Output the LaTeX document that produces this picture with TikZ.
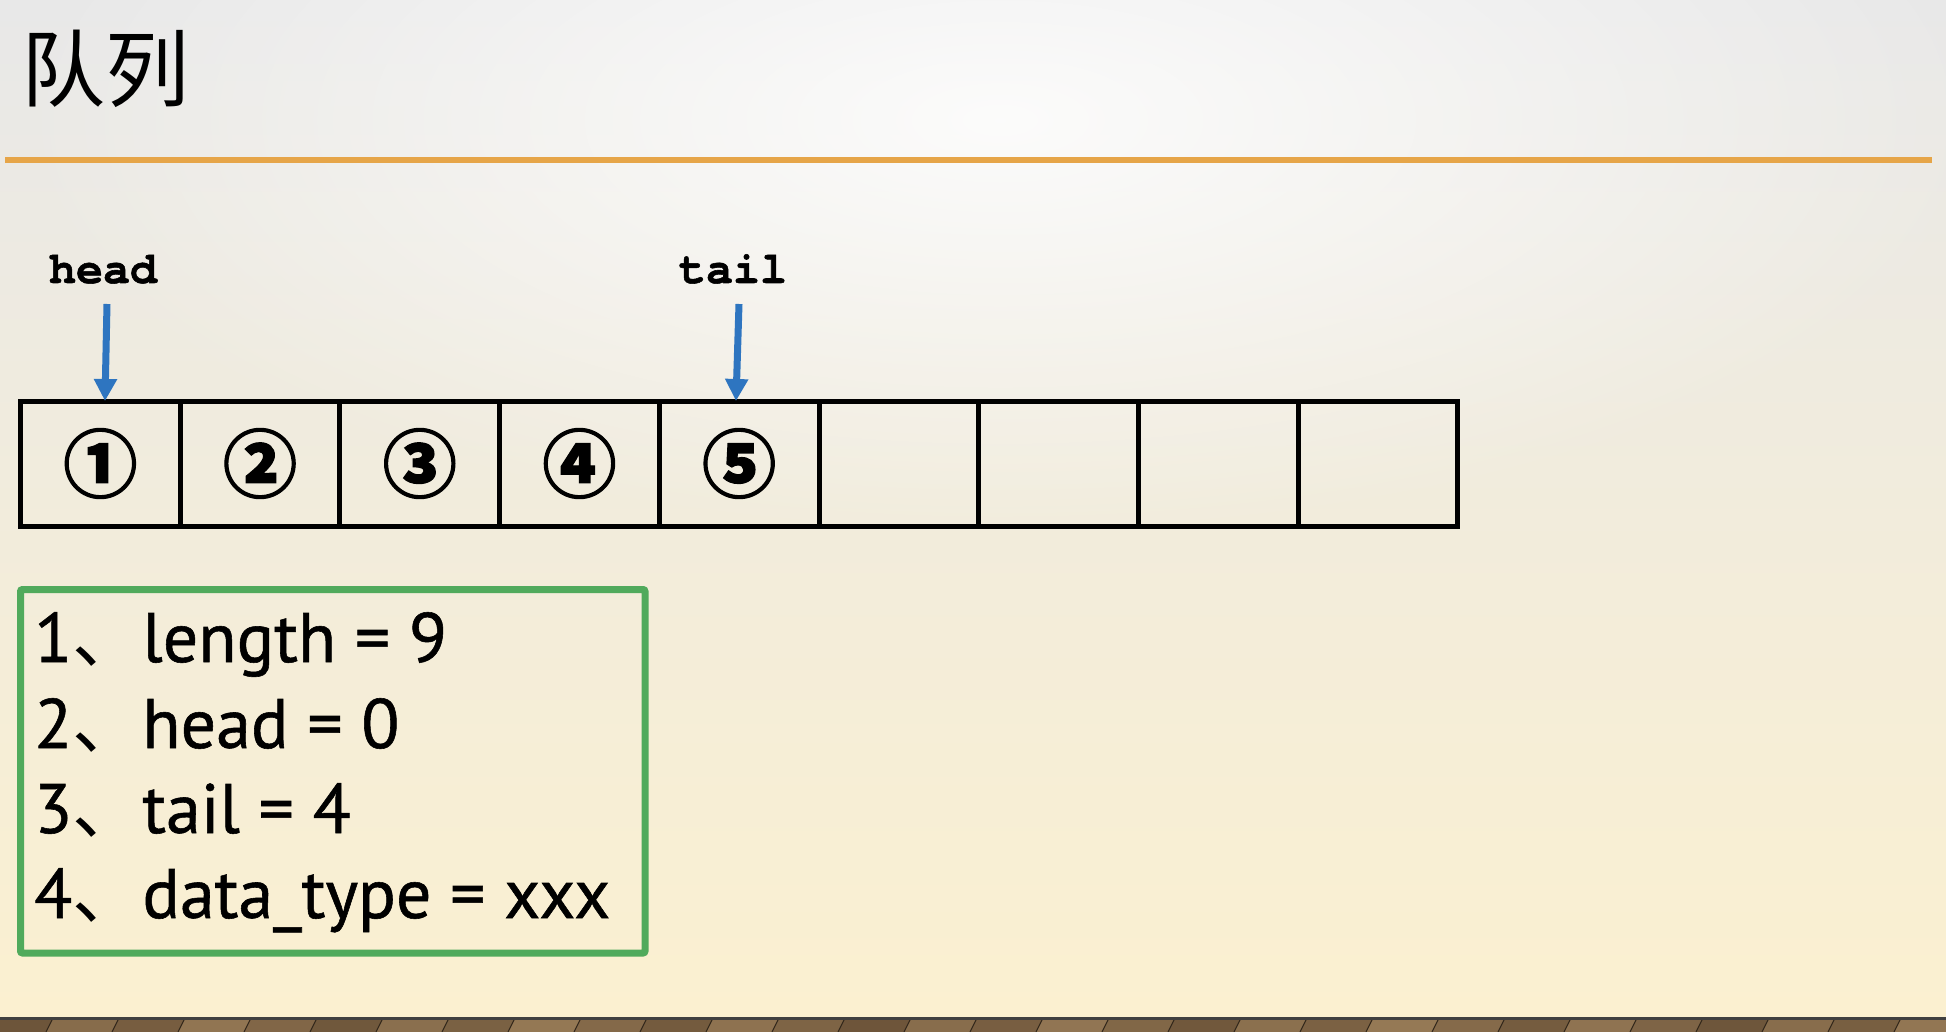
\documentclass[tikz,border=0pt]{standalone}
\usepackage{fontspec}
\setmainfont{PT Sans}[UprightFeatures={FakeBold=0.8}]
\newfontfamily\courb{texgyrecursor-bold.otf}[FakeBold=1.2]
\newfontfamily\cjk{Noto Sans CJK SC}
\newfontfamily\circfont{Noto Sans CJK SC}[BoldFeatures={FakeBold=1.6}]
\usetikzlibrary{arrows.meta,fadings}
\definecolor{bgtop}{RGB}{232,232,232}
\definecolor{bgmid}{RGB}{247,244,234}
\definecolor{bgbot}{RGB}{251,240,208}
\definecolor{rule}{RGB}{230,165,72}
\definecolor{arrowblue}{RGB}{46,117,192}
\definecolor{boxgreen}{RGB}{80,170,92}
\definecolor{wooddark}{RGB}{95,72,48}
\definecolor{woodlight}{RGB}{165,135,96}
\tikzfading[name=glow, inner color=transparent!0, outer color=transparent!100]
\tikzset{
  cell/.style={draw=black, line width=5pt, minimum width=159.7pt, minimum height=125pt, inner sep=0pt, anchor=west},
  circnum/.style={font=\circfont\bfseries\fontsize{74}{74}\selectfont, inner sep=0pt},
  ptr/.style={font=\courb\fontsize{45}{45}\selectfont, inner sep=0pt, anchor=base},
  ptrarrow/.style={draw=arrowblue, line width=7pt, -{Triangle[width=22pt,length=22pt]}},
  listline/.style={font=\fontsize{70}{70}\selectfont, inner sep=0pt, anchor=base west},
}
\begin{document}
\begin{tikzpicture}[x=1pt,y=-1pt]
\useasboundingbox (0,0) rectangle (1946,1032);
% background
\shade[top color=bgtop, middle color=bgmid, bottom color=bgbot] (0,0) rectangle (1946,1018);
\begin{scope}
\clip (0,0) rectangle (1946,1018);
\fill[white, opacity=0.85, path fading=glow] (1000,120) ellipse [x radius=1000pt, y radius=420pt];
\end{scope}
% wood floor
\foreach \i in {0,...,31} {
  \pgfmathsetmacro{\xa}{\i*66-20}
  \pgfmathtruncatemacro{\m}{mod(\i*37,60)+20}
  \fill[woodlight!\m!wooddark] (\xa+7,1018) -- (\xa+73,1018) -- (\xa+66,1032) -- (\xa,1032) -- cycle;
  \draw[black!50!wooddark, line width=1pt] (\xa+7,1018) -- (\xa,1032);
}
\draw[black!75, line width=2.5pt] (0,1018.5) -- (1946,1018.5);
% title
\node[font=\cjk\fontsize{84}{90}\selectfont, inner sep=0pt, anchor=west] (title) at (21,69) {队列};
\draw[rule, line width=6pt] (5,160) -- (1932,160);
% cells
\foreach \i in {1,...,9} {
  \node[cell] (c\i) at ({18+(\i-1)*159.7},463.5) {};
}
\foreach \i/\s in {1/①,2/②,3/③,4/④,5/⑤} {
  \node[circnum] (n\i) at (c\i.center) {\s};
}
% pointers
\node[ptr] (head) at (103,283) {head};
\node[ptr] (tail) at (733,283) {tail};
\coordinate (hs) at (107,304);
\coordinate (he) at (105,401);
\coordinate (ts) at (739,304);
\coordinate (te) at (736,401);
\draw[ptrarrow] (hs) -- (he);
\draw[ptrarrow] (ts) -- (te);
% info box
\node[draw=boxgreen, line width=7pt, rounded corners=2pt, minimum width=624.5pt, minimum height=363.5pt, anchor=north west, inner sep=0pt] (box) at (17,586) {};
\node[listline] (l1) at (34,662) {1{\cjk 、}length = 9};
\node[listline] (l2) at (34,748) {2{\cjk 、}head = 0};
\node[listline] (l3) at (34,833) {3{\cjk 、}tail = 4};
\node[listline] (l4) at (34,918) {4{\cjk 、}data\_type = xxx};
\end{tikzpicture}
\end{document}
